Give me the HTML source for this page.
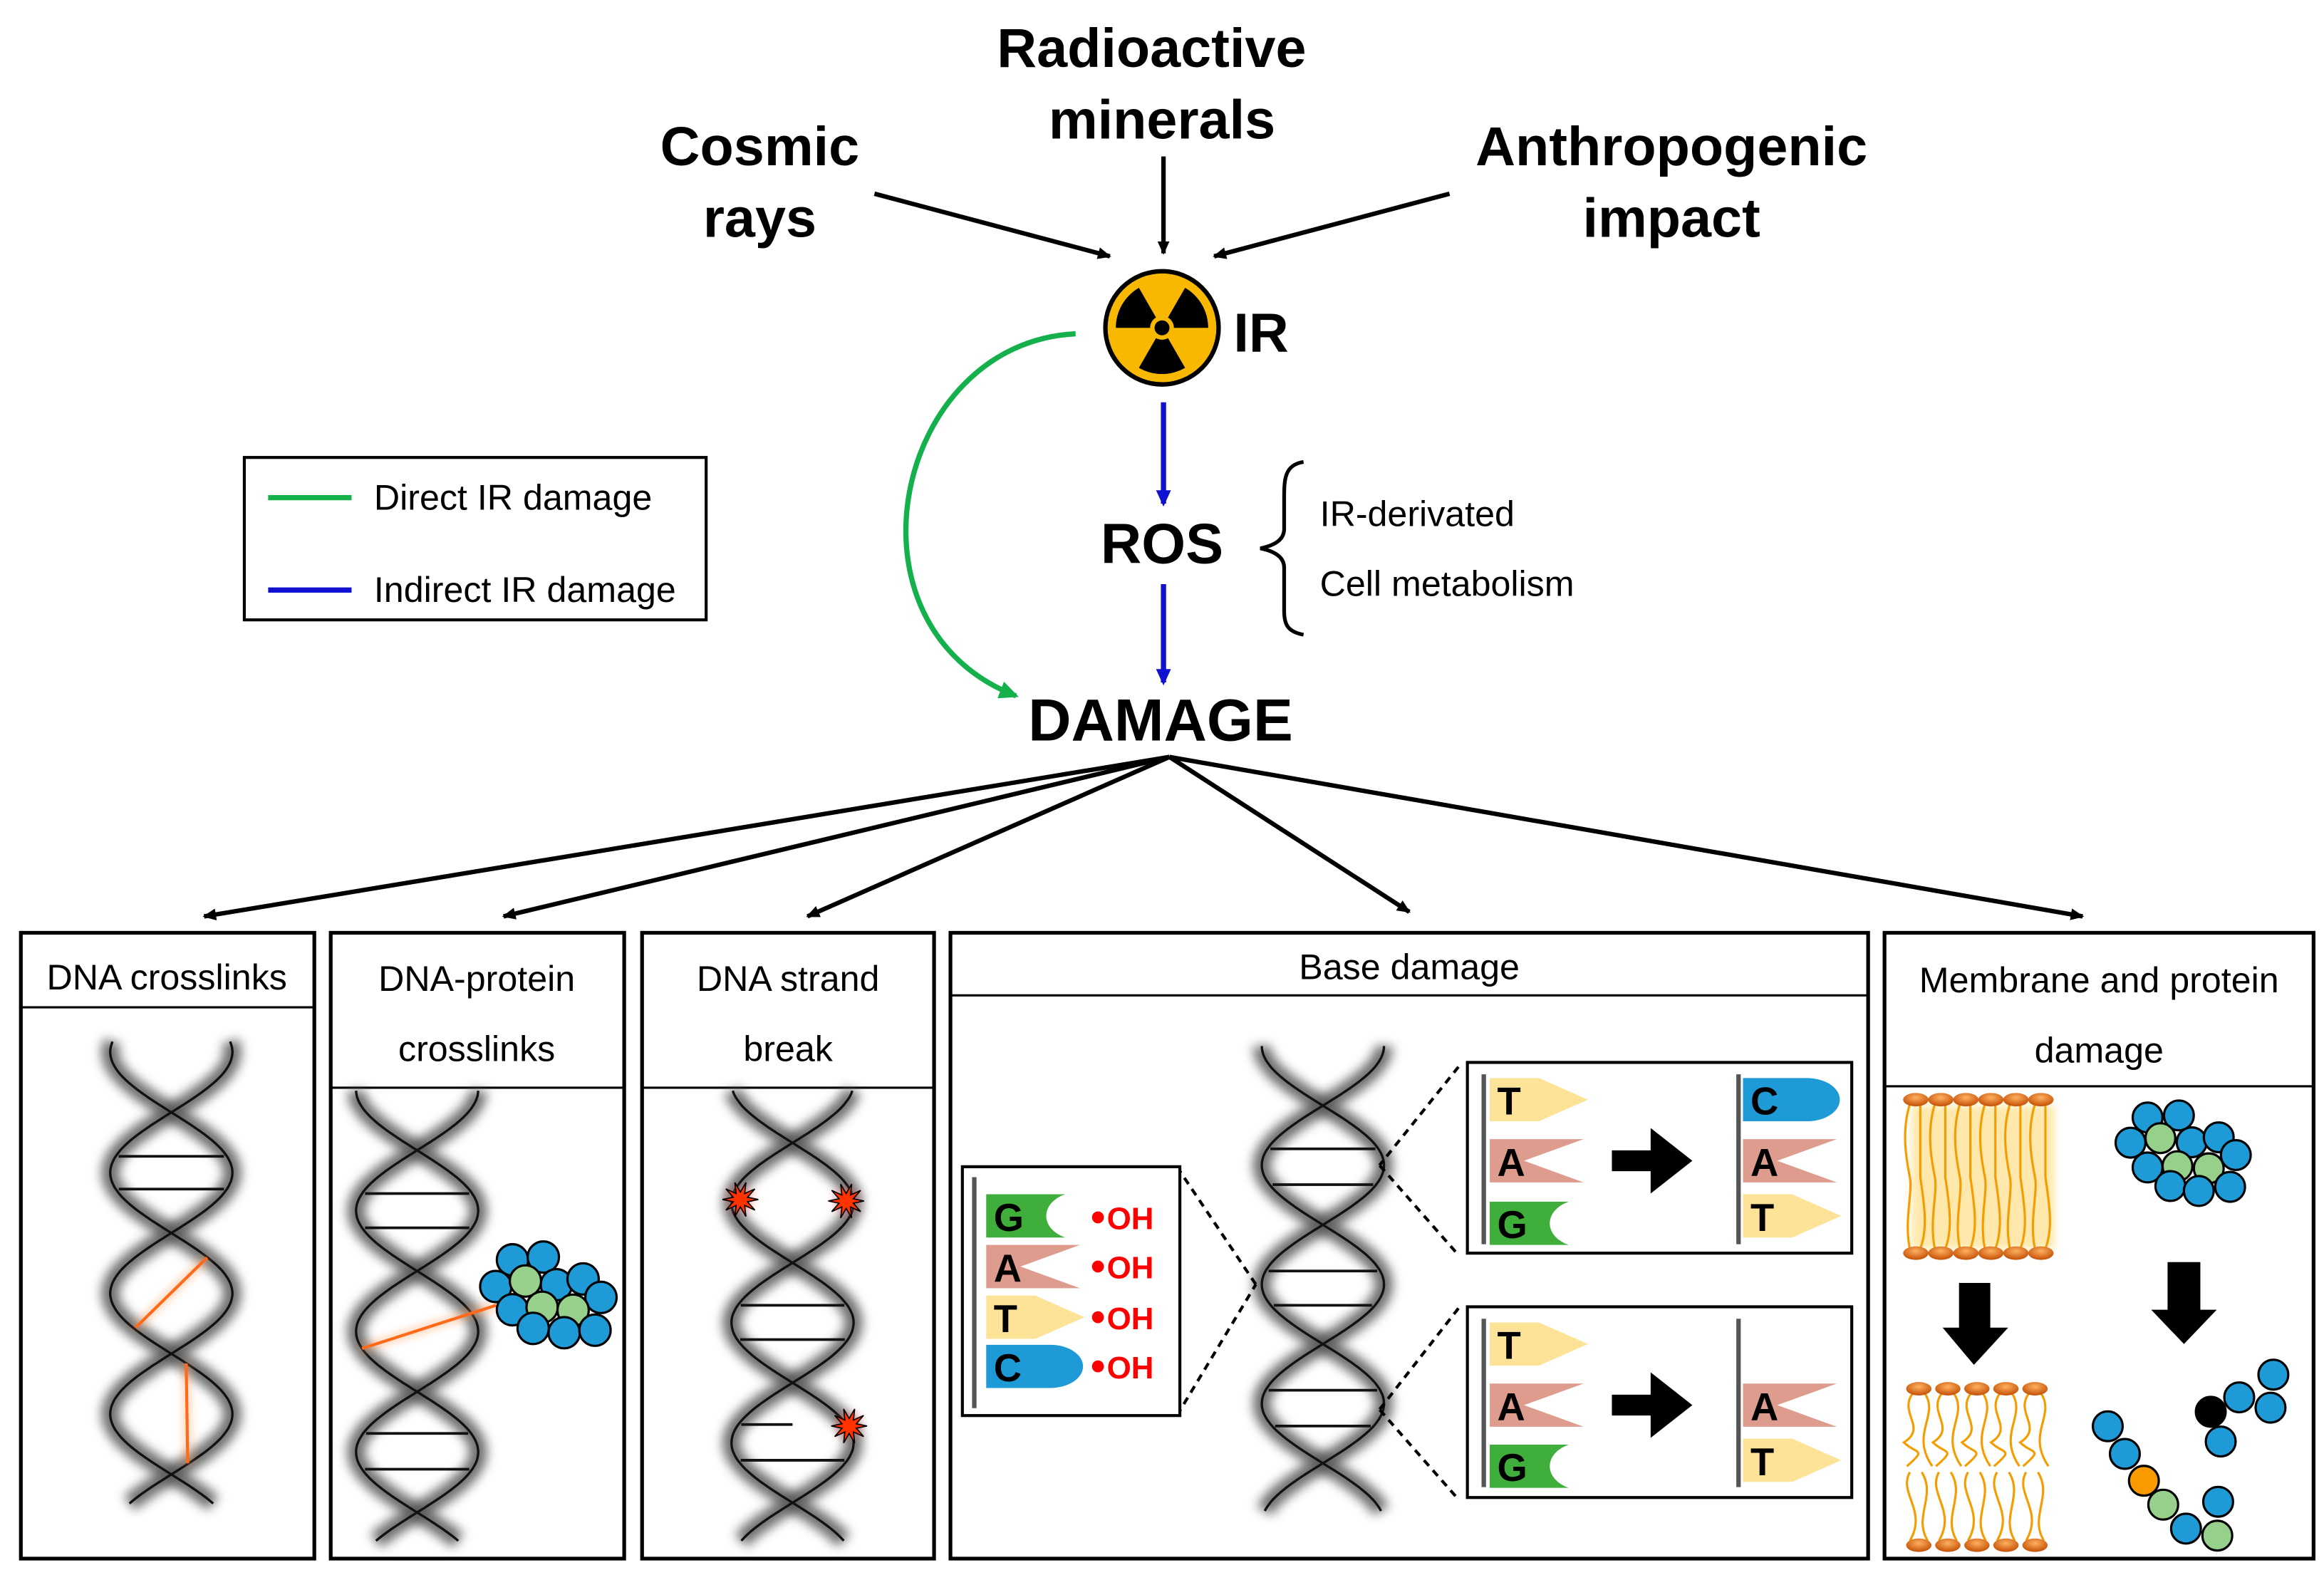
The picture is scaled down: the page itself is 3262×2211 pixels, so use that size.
<!DOCTYPE html>
<html><head><meta charset="utf-8"><style>
html,body{margin:0;padding:0;background:#fff}
svg{display:block}
text{font-family:"Liberation Sans",sans-serif}
</style></head><body>
<svg id="s" width="3262" height="2211" viewBox="0 0 1560 1057" preserveAspectRatio="none" xmlns="http://www.w3.org/2000/svg">
<defs>
<filter id="bl" x="-50%" y="-10%" width="200%" height="120%"><feGaussianBlur stdDeviation="3.5"/></filter>
<filter id="gl" x="-20%" y="-20%" width="140%" height="140%"><feGaussianBlur stdDeviation="2.5"/></filter>
<marker id="ak" markerWidth="10" markerHeight="10" refX="8" refY="5" orient="auto" markerUnits="userSpaceOnUse"><path d="M0,1 L9,5 L0,9 Z" fill="#000"/></marker>
<marker id="ab" markerWidth="12" markerHeight="12" refX="9" refY="6" orient="auto" markerUnits="userSpaceOnUse"><path d="M0,1 L11,6 L0,11 Z" fill="#1010d0"/></marker>
<marker id="ag" markerWidth="14" markerHeight="14" refX="11" refY="7" orient="auto" markerUnits="userSpaceOnUse"><path d="M0,1 L13,7 L0,13 Z" fill="#14b04c"/></marker>
<radialGradient id="hd" cx="50%" cy="35%" r="60%"><stop offset="0" stop-color="#ffb060"/><stop offset="1" stop-color="#c8560a"/></radialGradient>
</defs>

<g font-weight="bold" font-size="37" text-anchor="middle" fill="#000">
<text x="773" y="45">Radioactive</text><text x="780" y="93">minerals</text>
<text x="510" y="111">Cosmic</text><text x="510" y="159">rays</text>
<text x="1122" y="111">Anthropogenic</text><text x="1122" y="159">impact</text>
</g>
<g stroke="#000" stroke-width="3" marker-end="url(#ak)">
<line x1="587" y1="130" x2="745" y2="172"/>
<line x1="781" y1="105" x2="781" y2="170"/>
<line x1="973" y1="130" x2="815" y2="172"/>
</g>

<circle cx="780" cy="220" r="38" fill="#f9b800" stroke="#000" stroke-width="3"/>
<g id="tre" fill="#000"></g>
<circle cx="780" cy="220" r="5" fill="#000"/>
<text x="828" y="236" font-weight="bold" font-size="37">IR</text>

<path d="M722,224 C600,230 560,420 682,467" fill="none" stroke="#14b04c" stroke-width="3.5" marker-end="url(#ag)"/>
<line x1="781" y1="270" x2="781" y2="338" stroke="#1010d0" stroke-width="3.5" marker-end="url(#ab)"/>
<text x="780" y="378" font-weight="bold" font-size="38" text-anchor="middle">ROS</text>
<line x1="781" y1="392" x2="781" y2="458" stroke="#1010d0" stroke-width="3.5" marker-end="url(#ab)"/>
<path d="M875,310 C862,312 862,322 862,335 L862,355 C862,362 856,366 846,368 C856,370 862,374 862,381 L862,410 C862,420 865,424 875,426" fill="none" stroke="#000" stroke-width="2.5"/>
<text x="886" y="353" font-size="24">IR-derivated</text>
<text x="886" y="400" font-size="24">Cell metabolism</text>

<rect x="164" y="307" width="310" height="109" fill="#fff" stroke="#000" stroke-width="2"/>
<line x1="180" y1="334" x2="236" y2="334" stroke="#14b04c" stroke-width="3.5"/>
<text x="251" y="342" font-size="24">Direct IR damage</text>
<line x1="180" y1="396" x2="236" y2="396" stroke="#1010d0" stroke-width="3.5"/>
<text x="251" y="404" font-size="24">Indirect IR damage</text>

<text x="779" y="497" font-weight="bold" font-size="40" text-anchor="middle">DAMAGE</text>
<g stroke="#000" stroke-width="3" marker-end="url(#ak)">
<line x1="785" y1="508" x2="137" y2="615"/>
<line x1="785" y1="508" x2="338" y2="615"/>
<line x1="785" y1="508" x2="542" y2="615"/>
<line x1="785" y1="508" x2="946" y2="612"/>
<line x1="785" y1="508" x2="1398" y2="615"/>
</g>

<g fill="none" stroke="#000" stroke-width="2.5">
<rect x="14" y="626" width="197" height="420"/><line x1="14" y1="676" x2="211" y2="676" stroke-width="1.5"/>
<rect x="222" y="626" width="197" height="420"/><line x1="222" y1="730" x2="419" y2="730" stroke-width="1.5"/>
<rect x="431" y="626" width="196" height="420"/><line x1="431" y1="730" x2="627" y2="730" stroke-width="1.5"/>
<rect x="638" y="626" width="616" height="420"/><line x1="638" y1="668" x2="1254" y2="668" stroke-width="1.5"/>
<rect x="1265" y="626" width="288" height="420"/><line x1="1265" y1="729" x2="1553" y2="729" stroke-width="1.5"/>
</g>
<g font-size="24" text-anchor="middle">
<text x="112" y="664">DNA crosslinks</text>
<text x="320" y="665">DNA-protein</text><text x="320" y="712">crosslinks</text>
<text x="529" y="665">DNA strand</text><text x="529" y="712">break</text>
<text x="946" y="657">Base damage</text>
<text x="1409" y="666">Membrane and protein</text><text x="1409" y="713">damage</text>
</g>

<g id="helices"></g>

<g stroke="#ffa060" stroke-width="6" opacity="0.4" filter="url(#gl)"><line x1="91" y1="891" x2="139" y2="844"/><line x1="125" y1="915" x2="126" y2="982"/><line x1="243" y1="905" x2="333" y2="876"/></g>
<g stroke="#ff6a1a" stroke-width="2"><line x1="91" y1="891" x2="139" y2="844"/><line x1="125" y1="915" x2="126" y2="982"/><line x1="243" y1="905" x2="333" y2="876"/></g>
<g id="p2c" stroke="#000" stroke-width="1.5"></g>
<g id="stars"></g>

<g stroke="#000" stroke-width="2" fill="none" stroke-dasharray="5,4">
<line x1="790" y1="783" x2="843" y2="862"/><line x1="790" y1="950" x2="843" y2="862"/>
<line x1="979" y1="716" x2="926" y2="782"/><line x1="977" y1="840" x2="926" y2="782"/>
<line x1="979" y1="878" x2="926" y2="946"/><line x1="977" y1="1004" x2="926" y2="946"/>
</g>
<g fill="#fff" stroke="#000" stroke-width="2">
<rect x="646" y="783" width="146" height="167"/>
<rect x="985" y="713" width="258" height="128"/>
<rect x="985" y="877" width="258" height="128"/>
</g>
<g stroke="#555" stroke-width="3">
<line x1="654" y1="790" x2="654" y2="945"/>
<line x1="996" y1="721" x2="996" y2="835"/><line x1="1167" y1="721" x2="1167" y2="835"/>
<line x1="996" y1="885" x2="996" y2="998"/><line x1="1167" y1="885" x2="1167" y2="998"/>
</g>
<g id="bases"></g>
<g fill="#000">
<path d="M1082,772 L1108,772 L1108,757 L1136,779 L1108,801 L1108,786 L1082,786 Z"/>
<path d="M1082,936 L1108,936 L1108,921 L1136,943 L1108,965 L1108,950 L1082,950 Z"/>
</g>
<g fill="#f00" font-weight="bold" font-size="21">
<circle cx="737" cy="817" r="4"/><text x="743" y="825">OH</text>
<circle cx="737" cy="850" r="4"/><text x="743" y="858">OH</text>
<circle cx="737" cy="884" r="4"/><text x="743" y="892">OH</text>
<circle cx="737" cy="917" r="4"/><text x="743" y="925">OH</text>
</g>

<g id="mem"></g>
<g fill="#000">
<path d="M1315,861 L1336,861 L1336,891 L1348,891 L1325,916 L1304,891 L1315,891 Z"/>
<path d="M1455,847 L1477,847 L1477,879 L1488,879 L1466,902 L1444,879 L1455,879 Z"/>
</g>
<g id="prot" stroke="#000" stroke-width="1.5"></g>

<script>
var NS="http://www.w3.org/2000/svg";
function el(p,t,a){var e=document.createElementNS(NS,t);for(var k in a)e.setAttribute(k,a[k]);p.appendChild(e);return e;}
var tr=document.getElementById("tre"),cx=780,cy=220;
[90,210,330].forEach(function(c){var a1=(c-30)*Math.PI/180,a2=(c+30)*Math.PI/180,r1=8,r2=31;
el(tr,"path",{d:"M"+(cx+r1*Math.cos(a1))+","+(cy+r1*Math.sin(a1))+" L"+(cx+r2*Math.cos(a1))+","+(cy+r2*Math.sin(a1))+" A"+r2+","+r2+" 0 0 1 "+(cx+r2*Math.cos(a2))+","+(cy+r2*Math.sin(a2))+" L"+(cx+r1*Math.cos(a2))+","+(cy+r1*Math.sin(a2))+" A"+r1+","+r1+" 0 0 0 "+(cx+r1*Math.cos(a1))+","+(cy+r1*Math.sin(a1))+"Z"});});
var H=document.getElementById("helices");
function helix(cx,y1,y2,y0,P,A,rungs){
 var d1="",d2="";
 for(var y=y1;y<=y2;y+=2){var s=A*Math.sin(Math.PI*(y-y0)/P);d1+=(y==y1?"M":"L")+(cx+s).toFixed(1)+","+y;d2+=(y==y1?"M":"L")+(cx-s).toFixed(1)+","+y;}
 [d1,d2].forEach(function(d){el(H,"path",{d:d,fill:"none",stroke:"#555",'stroke-width':12,filter:"url(#bl)",opacity:0.85});});
 [d1,d2].forEach(function(d){el(H,"path",{d:d,fill:"none",stroke:"#111",'stroke-width':1.6});});
 rungs.forEach(function(r){var y=r[0]!==undefined?r[0]:r;var s=Math.abs(A*Math.sin(Math.PI*(y-y0)/P))-2;
  var xa=cx-s,xb=r[1]!==undefined?r[1]:cx+s;el(H,"line",{x1:xa,y1:y,x2:xb,y2:y,stroke:"#111",'stroke-width':1.8});});
}
helix(115,699,1010,746.5,81,41,[776,798]);
helix(280,732,1034,772,81,41,[801,824,962,986]);
helix(532,732,1034,767,80.5,41,[876,899,980,[956,532]]);
helix(888,702,1014,742,80,41,[771,795,853,876,933,957]);
var pc=document.getElementById("p2c");
[[838,720,"b"],[890,712,"b"],[810,793,"b"],[912,788,"b"],[957,772,"b"],[987,823,"b"],[838,857,"b"],[860,778,"g"],[888,850,"g"],[940,858,"g"],[873,908,"b"],[925,920,"b"],[977,913,"b"]].forEach(function(c){el(pc,"ellipse",{cx:(9.6+c[0]*0.399).toFixed(1),cy:(669.5+c[1]*0.2445).toFixed(1),rx:10.5,ry:10.5,fill:c[2]=="b"?"#1e9bd7":"#96d08a"});});
var st=document.getElementById("stars");
[[497,805],[568,806],[570,957]].forEach(function(p){var d="";for(var i=0;i<20;i++){var r=i%2?5:12,a=i*Math.PI/10;d+=(i?"L":"M")+(p[0]+r*Math.cos(a)).toFixed(1)+","+(p[1]+r*Math.sin(a)).toFixed(1);}
el(st,"path",{d:d+"Z",fill:"#ff6060",opacity:0.6,filter:"url(#gl)"});el(st,"path",{d:d+"Z",fill:"#ff3300",stroke:"#000",'stroke-width':0.8});});
var B=document.getElementById("bases");
var col={G:"#3fae3a",A:"#de9c8e",T:"#fde398",C:"#1e9bd7"};
function base(L,x,y){var w=63,h=29,t=y-h/2,c=col[L],d;
 if(L=="G")d="M"+x+","+t+" h"+(w-10)+" a22,16 0 0 0 0,"+h+" h-"+(w-10)+"Z";
 if(L=="A")d="M"+x+","+t+" h"+w+" l-40,"+h/2+" l40,"+h/2+" h-"+w+"Z";
 if(L=="T")d="M"+x+","+t+" h"+(w-30)+" l33,"+h/2+" l-33,"+h/2+" h-"+(w-30)+"Z";
 if(L=="C")d="M"+x+","+t+" h"+(w-20)+" a22,"+h/2+" 0 0 1 0,"+h+" h-"+(w-20)+"Z";
 el(B,"path",{d:d,fill:c});
 var tx=el(B,"text",{x:x+5,y:y+10,'font-size':26,'font-weight':'bold',fill:"#000"});tx.textContent=L;}
base("G",662,816);base("A",662,850);base("T",662,884);base("C",662,917);
base("T",1000,738);base("A",1000,779);base("G",1000,821);
base("C",1170,738);base("A",1170,779);base("T",1170,816);
base("T",1000,902);base("A",1000,943);base("G",1000,984);
base("A",1170,943);base("T",1170,980);
var M=document.getElementById("mem");
el(M,"rect",{x:1283,y:742,width:96,height:96,fill:"#ffd25a",opacity:0.5,filter:"url(#gl)"});
for(var i=0;i<6;i++){var x=1286+i*16.8;
 el(M,"path",{d:"M"+(x-4)+",741 C"+(x-10)+",760 "+(x-6)+",780 "+(x-4)+",790 C"+(x-2)+",800 "+(x-8)+",820 "+(x-4)+",838",fill:"none",stroke:"#f59c00",'stroke-width':1.5});
 el(M,"path",{d:"M"+(x+3)+",741 L"+(x+3)+",790 C"+(x+6)+",810 "+(x+8)+",825 "+(x+3)+",838",fill:"none",stroke:"#f59c00",'stroke-width':1.5});
 el(M,"ellipse",{cx:x,cy:738,rx:8.5,ry:4.5,fill:"url(#hd)"});el(M,"ellipse",{cx:x,cy:841,rx:8.5,ry:4.5,fill:"url(#hd)"});}
for(var i=0;i<5;i++){var x=1288+i*19.5;
 el(M,"path",{d:"M"+(x-4)+",935 C"+(x-14)+",948 "+(x+6)+",958 "+(x-10)+",968 C"+(x-2)+",976 "+(x+6)+",972 "+(x-8)+",984 M"+(x+4)+",935 C"+(x+14)+",950 "+(x-6)+",962 "+(x+9)+",984",fill:"none",stroke:"#f59c00",'stroke-width':1.5});
 el(M,"path",{d:"M"+(x-6)+",988 C"+(x-14)+",1002 "+(x+6)+",1014 "+(x-6)+",1034 M"+(x+2)+",988 C"+(x+12)+",1004 "+(x-4)+",1018 "+(x+6)+",1034",fill:"none",stroke:"#f59c00",'stroke-width':1.5});
 el(M,"ellipse",{cx:x,cy:932,rx:8.5,ry:4.5,fill:"url(#hd)"});el(M,"ellipse",{cx:x,cy:1037,rx:8.5,ry:4.5,fill:"url(#hd)"});}
var P=document.getElementById("prot");
function cc(zx,zy,f){el(P,"circle",{cx:1263+zx*0.191,cy:622+zy*0.277,r:10,fill:f});}
var b="#1e9bd7",g="#96d08a";
[[935,462,b],[1045,457,b],[875,523,b],[980,512,g],[1090,522,b],[1185,510,b],[1245,553,b],[935,583,b],[1040,580,g],[1150,585,g],[1015,628,b],[1115,640,b],[1225,630,b]].forEach(function(c){cc(c[0],c[1],c[2]);});
[[795,1210,b],[855,1277,b],[922,1342,"#f99a00"],[990,1400,g],[1070,1458,b],[1180,1475,g],[1183,1393,b],[1157,1175,"#000"],[1192,1247,b],[1257,1140,b],[1367,1165,b],[1377,1085,b]].forEach(function(c){cc(c[0],c[1],c[2]);});
</script>
</svg>
</body></html>
